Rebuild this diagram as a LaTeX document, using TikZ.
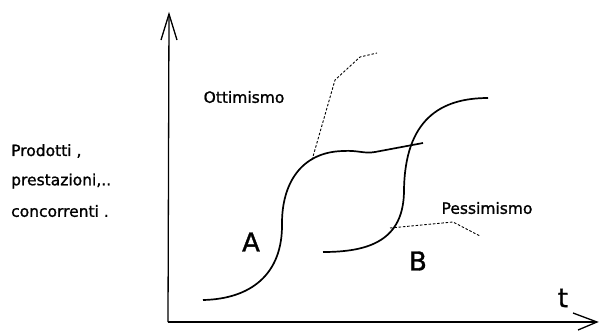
\documentclass[tikz,border=0pt]{standalone}
\usepackage{fontspec}
\setmainfont{DejaVu Sans}[BoldFont={DejaVu Sans}, BoldFeatures={FakeBold=1.2}]
\begin{document}
\begin{tikzpicture}[x=1pt,y=-1pt,
  axis/.style={line width=1.3pt},
  curve/.style={line width=1.7pt},
  hint/.style={line width=0.9pt, dash pattern=on 2.5pt off 1.8pt},
  lbl/.style={inner sep=0pt, font=\fontsize{15.5}{18}\selectfont\bfseries},
  big/.style={inner sep=0pt, font=\fontsize{26}{28}\selectfont\bfseries}]
\useasboundingbox (0,0) rectangle (599,330);
% axes
\coordinate (o) at (168,322);
\coordinate (ytop) at (169,14);
\coordinate (xend) at (597,322);
\draw[axis] (o) -- (ytop);
\draw[axis] (161,40) -- (ytop) -- (177,40);
\draw[axis] (o) -- (xend);
\draw[axis] (573,313) -- (xend) -- (578,330);
% curve A
\coordinate (a0) at (203,300);
\coordinate (a1) at (282,223);
\coordinate (a2) at (343,151);
\coordinate (a3) at (375,152);
\coordinate (a4) at (423,143);
\draw[curve] (a0) .. controls (250,299) and (283,275) .. (a1)
  .. controls (282,185) and (300,152) .. (a2)
  .. controls (358,150) and (364,154) .. (a3) -- (a4);
% curve B
\coordinate (b0) at (323,252);
\coordinate (b1) at (404,190);
\coordinate (b2) at (488,98);
\draw[curve] (b0) .. controls (370,252) and (404,240) .. (b1)
  .. controls (405,120) and (440,98) .. (b2);
% hint lines
\coordinate (oa) at (312,160);
\coordinate (ob) at (335,80);
\coordinate (oc) at (360,57);
\coordinate (od) at (377,53);
\draw[hint] (oa) -- (ob) -- (oc) -- (od);
\coordinate (pa) at (390,228);
\coordinate (pb) at (453,222);
\coordinate (pc) at (480,236);
\draw[hint] (pa) -- (pb) -- (pc);
% labels
\node[lbl] (ott) at (244,97) {Ottimismo};
\node[lbl] (pes) at (487,208) {Pessimismo};
\node[big] (A) at (251,242) {A};
\node[big] (B) at (418,261) {B};
\node[big] (t) at (563,298) {t};
\node[lbl, anchor=west] (l1) at (11,151) {Prodotti ,};
\node[lbl, anchor=west] (l2) at (11,181) {prestazioni,..};
\node[lbl, anchor=west] (l3) at (11,211) {concorrenti .};
\end{tikzpicture}
\end{document}
